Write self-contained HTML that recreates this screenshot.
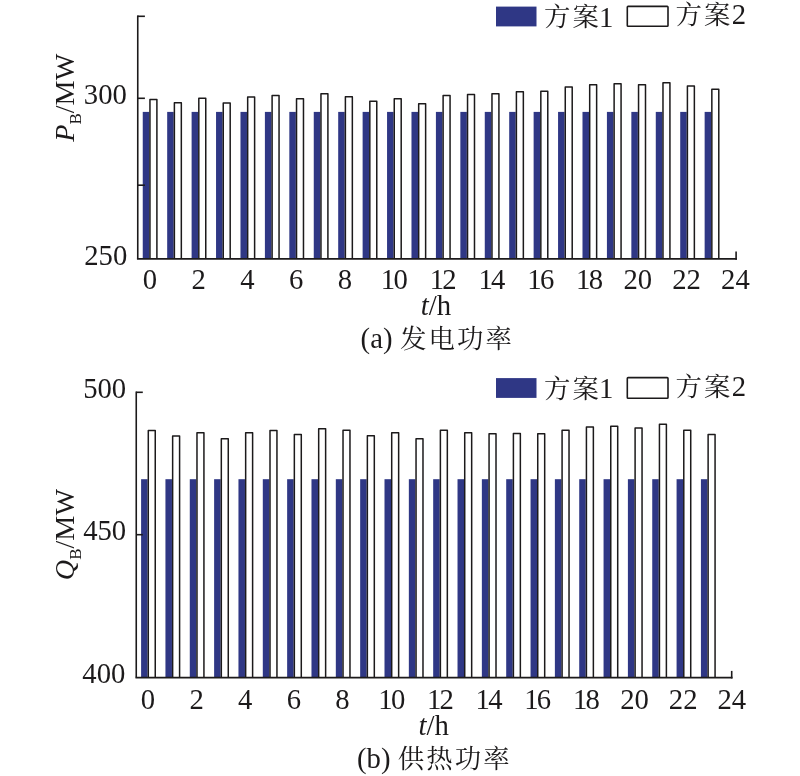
<!DOCTYPE html>
<html lang="zh-CN">
<head>
<meta charset="utf-8">
<title>发电功率与供热功率</title>
<style>
html,body{margin:0;padding:0;background:#fff;}
body{width:800px;height:776px;overflow:hidden;}
svg{display:block;}
text{font-family:"Liberation Serif","Noto Serif CJK SC",serif;fill:#1c1a1b;}
.cj{font-family:"Noto Serif CJK SC","Liberation Serif",serif;}
</style>
</head>
<body>
<svg width="800" height="776" viewBox="0 0 800 776">
<rect width="800" height="776" fill="#fff"/>
<g id="chart-a">
<rect x="142.75" y="111.90" width="6.5" height="146.90" fill="#2f3785"/>
<rect x="167.18" y="111.90" width="6.5" height="146.90" fill="#2f3785"/>
<rect x="191.61" y="111.90" width="6.5" height="146.90" fill="#2f3785"/>
<rect x="216.04" y="111.90" width="6.5" height="146.90" fill="#2f3785"/>
<rect x="240.47" y="111.90" width="6.5" height="146.90" fill="#2f3785"/>
<rect x="264.90" y="111.90" width="6.5" height="146.90" fill="#2f3785"/>
<rect x="289.33" y="111.90" width="6.5" height="146.90" fill="#2f3785"/>
<rect x="313.76" y="111.90" width="6.5" height="146.90" fill="#2f3785"/>
<rect x="338.19" y="111.90" width="6.5" height="146.90" fill="#2f3785"/>
<rect x="362.62" y="111.90" width="6.5" height="146.90" fill="#2f3785"/>
<rect x="387.05" y="111.90" width="6.5" height="146.90" fill="#2f3785"/>
<rect x="411.48" y="111.90" width="6.5" height="146.90" fill="#2f3785"/>
<rect x="435.91" y="111.90" width="6.5" height="146.90" fill="#2f3785"/>
<rect x="460.34" y="111.90" width="6.5" height="146.90" fill="#2f3785"/>
<rect x="484.77" y="111.90" width="6.5" height="146.90" fill="#2f3785"/>
<rect x="509.20" y="111.90" width="6.5" height="146.90" fill="#2f3785"/>
<rect x="533.63" y="111.90" width="6.5" height="146.90" fill="#2f3785"/>
<rect x="558.06" y="111.90" width="6.5" height="146.90" fill="#2f3785"/>
<rect x="582.49" y="111.90" width="6.5" height="146.90" fill="#2f3785"/>
<rect x="606.92" y="111.90" width="6.5" height="146.90" fill="#2f3785"/>
<rect x="631.35" y="111.90" width="6.5" height="146.90" fill="#2f3785"/>
<rect x="655.78" y="111.90" width="6.5" height="146.90" fill="#2f3785"/>
<rect x="680.21" y="111.90" width="6.5" height="146.90" fill="#2f3785"/>
<rect x="704.64" y="111.90" width="6.5" height="146.90" fill="#2f3785"/>
<path d="M149.95 258.80V99.50H156.90V258.80" fill="#fff" stroke="#1c1a1b" stroke-width="1.5" stroke-linejoin="round"/>
<path d="M174.38 258.80V102.65H181.33V258.80" fill="#fff" stroke="#1c1a1b" stroke-width="1.5" stroke-linejoin="round"/>
<path d="M198.81 258.80V98.25H205.76V258.80" fill="#fff" stroke="#1c1a1b" stroke-width="1.5" stroke-linejoin="round"/>
<path d="M223.24 258.80V103.00H230.19V258.80" fill="#fff" stroke="#1c1a1b" stroke-width="1.5" stroke-linejoin="round"/>
<path d="M247.67 258.80V97.00H254.62V258.80" fill="#fff" stroke="#1c1a1b" stroke-width="1.5" stroke-linejoin="round"/>
<path d="M272.10 258.80V95.50H279.05V258.80" fill="#fff" stroke="#1c1a1b" stroke-width="1.5" stroke-linejoin="round"/>
<path d="M296.53 258.80V98.65H303.48V258.80" fill="#fff" stroke="#1c1a1b" stroke-width="1.5" stroke-linejoin="round"/>
<path d="M320.96 258.80V93.85H327.91V258.80" fill="#fff" stroke="#1c1a1b" stroke-width="1.5" stroke-linejoin="round"/>
<path d="M345.39 258.80V96.75H352.34V258.80" fill="#fff" stroke="#1c1a1b" stroke-width="1.5" stroke-linejoin="round"/>
<path d="M369.82 258.80V101.15H376.77V258.80" fill="#fff" stroke="#1c1a1b" stroke-width="1.5" stroke-linejoin="round"/>
<path d="M394.25 258.80V98.85H401.20V258.80" fill="#fff" stroke="#1c1a1b" stroke-width="1.5" stroke-linejoin="round"/>
<path d="M418.68 258.80V103.85H425.63V258.80" fill="#fff" stroke="#1c1a1b" stroke-width="1.5" stroke-linejoin="round"/>
<path d="M443.11 258.80V95.50H450.06V258.80" fill="#fff" stroke="#1c1a1b" stroke-width="1.5" stroke-linejoin="round"/>
<path d="M467.54 258.80V94.50H474.49V258.80" fill="#fff" stroke="#1c1a1b" stroke-width="1.5" stroke-linejoin="round"/>
<path d="M491.97 258.80V93.85H498.92V258.80" fill="#fff" stroke="#1c1a1b" stroke-width="1.5" stroke-linejoin="round"/>
<path d="M516.40 258.80V91.75H523.35V258.80" fill="#fff" stroke="#1c1a1b" stroke-width="1.5" stroke-linejoin="round"/>
<path d="M540.83 258.80V91.35H547.78V258.80" fill="#fff" stroke="#1c1a1b" stroke-width="1.5" stroke-linejoin="round"/>
<path d="M565.26 258.80V87.00H572.21V258.80" fill="#fff" stroke="#1c1a1b" stroke-width="1.5" stroke-linejoin="round"/>
<path d="M589.69 258.80V84.85H596.64V258.80" fill="#fff" stroke="#1c1a1b" stroke-width="1.5" stroke-linejoin="round"/>
<path d="M614.12 258.80V83.85H621.07V258.80" fill="#fff" stroke="#1c1a1b" stroke-width="1.5" stroke-linejoin="round"/>
<path d="M638.55 258.80V84.85H645.50V258.80" fill="#fff" stroke="#1c1a1b" stroke-width="1.5" stroke-linejoin="round"/>
<path d="M662.98 258.80V82.85H669.93V258.80" fill="#fff" stroke="#1c1a1b" stroke-width="1.5" stroke-linejoin="round"/>
<path d="M687.41 258.80V86.00H694.36V258.80" fill="#fff" stroke="#1c1a1b" stroke-width="1.5" stroke-linejoin="round"/>
<path d="M711.84 258.80V89.15H718.79V258.80" fill="#fff" stroke="#1c1a1b" stroke-width="1.5" stroke-linejoin="round"/>
<path d="M137.75 15.40V258.80" stroke="#1c1a1b" stroke-width="1.6" fill="none"/>
<path d="M136.95 258.80H736.90" stroke="#1c1a1b" stroke-width="1.8" fill="none"/>
<path d="M736.10 251.50V259.70" stroke="#1c1a1b" stroke-width="1.6" fill="none"/>
<path d="M137.75 16.30H144.90" stroke="#1c1a1b" stroke-width="1.6" fill="none"/>
<path d="M137.75 98.30H144.90" stroke="#1c1a1b" stroke-width="1.6" fill="none"/>
<path d="M137.75 185.20H144.90" stroke="#1c1a1b" stroke-width="1.6" fill="none"/>
</g>
<g id="chart-b">
<rect x="141.10" y="479.20" width="6.5" height="198.40" fill="#2f3785"/>
<rect x="165.44" y="479.20" width="6.5" height="198.40" fill="#2f3785"/>
<rect x="189.78" y="479.20" width="6.5" height="198.40" fill="#2f3785"/>
<rect x="214.12" y="479.20" width="6.5" height="198.40" fill="#2f3785"/>
<rect x="238.46" y="479.20" width="6.5" height="198.40" fill="#2f3785"/>
<rect x="262.80" y="479.20" width="6.5" height="198.40" fill="#2f3785"/>
<rect x="287.14" y="479.20" width="6.5" height="198.40" fill="#2f3785"/>
<rect x="311.48" y="479.20" width="6.5" height="198.40" fill="#2f3785"/>
<rect x="335.82" y="479.20" width="6.5" height="198.40" fill="#2f3785"/>
<rect x="360.16" y="479.20" width="6.5" height="198.40" fill="#2f3785"/>
<rect x="384.50" y="479.20" width="6.5" height="198.40" fill="#2f3785"/>
<rect x="408.84" y="479.20" width="6.5" height="198.40" fill="#2f3785"/>
<rect x="433.18" y="479.20" width="6.5" height="198.40" fill="#2f3785"/>
<rect x="457.52" y="479.20" width="6.5" height="198.40" fill="#2f3785"/>
<rect x="481.86" y="479.20" width="6.5" height="198.40" fill="#2f3785"/>
<rect x="506.20" y="479.20" width="6.5" height="198.40" fill="#2f3785"/>
<rect x="530.54" y="479.20" width="6.5" height="198.40" fill="#2f3785"/>
<rect x="554.88" y="479.20" width="6.5" height="198.40" fill="#2f3785"/>
<rect x="579.22" y="479.20" width="6.5" height="198.40" fill="#2f3785"/>
<rect x="603.56" y="479.20" width="6.5" height="198.40" fill="#2f3785"/>
<rect x="627.90" y="479.20" width="6.5" height="198.40" fill="#2f3785"/>
<rect x="652.24" y="479.20" width="6.5" height="198.40" fill="#2f3785"/>
<rect x="676.58" y="479.20" width="6.5" height="198.40" fill="#2f3785"/>
<rect x="700.92" y="479.20" width="6.5" height="198.40" fill="#2f3785"/>
<path d="M148.30 677.60V430.50H155.25V677.60" fill="#fff" stroke="#1c1a1b" stroke-width="1.5" stroke-linejoin="round"/>
<path d="M172.64 677.60V436.00H179.59V677.60" fill="#fff" stroke="#1c1a1b" stroke-width="1.5" stroke-linejoin="round"/>
<path d="M196.98 677.60V432.65H203.93V677.60" fill="#fff" stroke="#1c1a1b" stroke-width="1.5" stroke-linejoin="round"/>
<path d="M221.32 677.60V438.85H228.27V677.60" fill="#fff" stroke="#1c1a1b" stroke-width="1.5" stroke-linejoin="round"/>
<path d="M245.66 677.60V432.65H252.61V677.60" fill="#fff" stroke="#1c1a1b" stroke-width="1.5" stroke-linejoin="round"/>
<path d="M270.00 677.60V430.50H276.95V677.60" fill="#fff" stroke="#1c1a1b" stroke-width="1.5" stroke-linejoin="round"/>
<path d="M294.34 677.60V434.50H301.29V677.60" fill="#fff" stroke="#1c1a1b" stroke-width="1.5" stroke-linejoin="round"/>
<path d="M318.68 677.60V428.85H325.63V677.60" fill="#fff" stroke="#1c1a1b" stroke-width="1.5" stroke-linejoin="round"/>
<path d="M343.02 677.60V430.35H349.97V677.60" fill="#fff" stroke="#1c1a1b" stroke-width="1.5" stroke-linejoin="round"/>
<path d="M367.36 677.60V435.75H374.31V677.60" fill="#fff" stroke="#1c1a1b" stroke-width="1.5" stroke-linejoin="round"/>
<path d="M391.70 677.60V432.65H398.65V677.60" fill="#fff" stroke="#1c1a1b" stroke-width="1.5" stroke-linejoin="round"/>
<path d="M416.04 677.60V438.85H422.99V677.60" fill="#fff" stroke="#1c1a1b" stroke-width="1.5" stroke-linejoin="round"/>
<path d="M440.38 677.60V430.35H447.33V677.60" fill="#fff" stroke="#1c1a1b" stroke-width="1.5" stroke-linejoin="round"/>
<path d="M464.72 677.60V432.65H471.67V677.60" fill="#fff" stroke="#1c1a1b" stroke-width="1.5" stroke-linejoin="round"/>
<path d="M489.06 677.60V433.85H496.01V677.60" fill="#fff" stroke="#1c1a1b" stroke-width="1.5" stroke-linejoin="round"/>
<path d="M513.40 677.60V433.50H520.35V677.60" fill="#fff" stroke="#1c1a1b" stroke-width="1.5" stroke-linejoin="round"/>
<path d="M537.74 677.60V433.85H544.69V677.60" fill="#fff" stroke="#1c1a1b" stroke-width="1.5" stroke-linejoin="round"/>
<path d="M562.08 677.60V430.15H569.03V677.60" fill="#fff" stroke="#1c1a1b" stroke-width="1.5" stroke-linejoin="round"/>
<path d="M586.42 677.60V427.00H593.37V677.60" fill="#fff" stroke="#1c1a1b" stroke-width="1.5" stroke-linejoin="round"/>
<path d="M610.76 677.60V426.35H617.71V677.60" fill="#fff" stroke="#1c1a1b" stroke-width="1.5" stroke-linejoin="round"/>
<path d="M635.10 677.60V428.00H642.05V677.60" fill="#fff" stroke="#1c1a1b" stroke-width="1.5" stroke-linejoin="round"/>
<path d="M659.44 677.60V424.15H666.39V677.60" fill="#fff" stroke="#1c1a1b" stroke-width="1.5" stroke-linejoin="round"/>
<path d="M683.78 677.60V430.15H690.73V677.60" fill="#fff" stroke="#1c1a1b" stroke-width="1.5" stroke-linejoin="round"/>
<path d="M708.12 677.60V434.50H715.07V677.60" fill="#fff" stroke="#1c1a1b" stroke-width="1.5" stroke-linejoin="round"/>
<path d="M136.25 391.50V677.60" stroke="#1c1a1b" stroke-width="1.6" fill="none"/>
<path d="M135.45 677.60H732.50" stroke="#1c1a1b" stroke-width="1.8" fill="none"/>
<path d="M731.70 670.90V678.50" stroke="#1c1a1b" stroke-width="1.6" fill="none"/>
<path d="M136.25 392.30H142.80" stroke="#1c1a1b" stroke-width="1.6" fill="none"/>
<path d="M136.25 534.70H142.80" stroke="#1c1a1b" stroke-width="1.6" fill="none"/>
</g>
<g id="labels">
<text x="126.9" y="104.2" text-anchor="end" font-size="28.7">300</text>
<text x="127.3" y="264.6" text-anchor="end" font-size="28.7">250</text>
<text x="126.2" y="398.4" text-anchor="end" font-size="28.7">500</text>
<text x="126.2" y="540.2" text-anchor="end" font-size="28.7">450</text>
<text x="125.4" y="683.2" text-anchor="end" font-size="28.7">400</text>
<text x="149.80" y="288.7" text-anchor="middle" font-size="28.7">0</text>
<text x="198.60" y="288.7" text-anchor="middle" font-size="28.7">2</text>
<text x="247.40" y="288.7" text-anchor="middle" font-size="28.7">4</text>
<text x="296.20" y="288.7" text-anchor="middle" font-size="28.7">6</text>
<text x="345.00" y="288.7" text-anchor="middle" font-size="28.7">8</text>
<text x="393.50" y="288.7" text-anchor="middle" font-size="28.7" letter-spacing="-1.7">10</text>
<text x="442.30" y="288.7" text-anchor="middle" font-size="28.7" letter-spacing="-1.7">12</text>
<text x="491.10" y="288.7" text-anchor="middle" font-size="28.7" letter-spacing="-1.7">14</text>
<text x="539.90" y="288.7" text-anchor="middle" font-size="28.7" letter-spacing="-1.7">16</text>
<text x="588.70" y="288.7" text-anchor="middle" font-size="28.7" letter-spacing="-1.7">18</text>
<text x="637.80" y="288.7" text-anchor="middle" font-size="28.7">20</text>
<text x="686.60" y="288.7" text-anchor="middle" font-size="28.7">22</text>
<text x="735.40" y="288.7" text-anchor="middle" font-size="28.7">24</text>
<text x="147.90" y="709.4" text-anchor="middle" font-size="28.7">0</text>
<text x="196.56" y="709.4" text-anchor="middle" font-size="28.7">2</text>
<text x="245.22" y="709.4" text-anchor="middle" font-size="28.7">4</text>
<text x="293.88" y="709.4" text-anchor="middle" font-size="28.7">6</text>
<text x="342.54" y="709.4" text-anchor="middle" font-size="28.7">8</text>
<text x="390.90" y="709.4" text-anchor="middle" font-size="28.7" letter-spacing="-1.7">10</text>
<text x="439.56" y="709.4" text-anchor="middle" font-size="28.7" letter-spacing="-1.7">12</text>
<text x="488.22" y="709.4" text-anchor="middle" font-size="28.7" letter-spacing="-1.7">14</text>
<text x="536.88" y="709.4" text-anchor="middle" font-size="28.7" letter-spacing="-1.7">16</text>
<text x="585.54" y="709.4" text-anchor="middle" font-size="28.7" letter-spacing="-1.7">18</text>
<text x="634.50" y="709.4" text-anchor="middle" font-size="28.7">20</text>
<text x="683.16" y="709.4" text-anchor="middle" font-size="28.7">22</text>
<text x="731.82" y="709.4" text-anchor="middle" font-size="28.7">24</text>
<text x="435.9" y="314.9" text-anchor="middle" font-size="28.7"><tspan font-style="italic">t</tspan>/h</text>
<text x="433.7" y="735.0" text-anchor="middle" font-size="28.7"><tspan font-style="italic">t</tspan>/h</text>
<text x="360.6" y="348.4" font-size="28.7">(a)</text>
<text class="cj" x="400.0" y="348.3" font-size="26.4" letter-spacing="2.1">发电功率</text>
<text x="357.0" y="768.0" font-size="28.7">(b)</text>
<text class="cj" x="397.7" y="767.7" font-size="26.4" letter-spacing="2.1">供热功率</text>
<text transform="translate(74,97.8) rotate(-90)" text-anchor="middle" font-size="28.2"><tspan font-style="italic">P</tspan><tspan font-size="17" dy="6.5">B</tspan><tspan dy="-6.5">/MW</tspan></text>
<text transform="translate(74,534.6) rotate(-90)" text-anchor="middle" font-size="28.2"><tspan font-style="italic">Q</tspan><tspan font-size="17" dy="6.5">B</tspan><tspan dy="-6.5">/MW</tspan></text>
<rect x="496" y="6.6" width="40.5" height="19.8" fill="#2f3785"/>
<rect x="627.30" y="6.40" width="40.70" height="19.80" rx="0.8" fill="#fff" stroke="#1c1a1b" stroke-width="1.6"/>
<text class="cj" x="543.9" y="26.3" font-size="26.4" letter-spacing="2.1">方案</text>
<text x="599.0" y="26.9" font-size="28.7">1</text>
<text class="cj" x="675.6" y="24.2" font-size="26.4" letter-spacing="2.1">方案</text>
<text x="731.7" y="24.4" font-size="28.7">2</text>
<rect x="496" y="378.1" width="40.5" height="19.8" fill="#2f3785"/>
<rect x="627.30" y="377.60" width="40.70" height="20.60" rx="0.8" fill="#fff" stroke="#1c1a1b" stroke-width="1.6"/>
<text class="cj" x="543.9" y="397.8" font-size="26.4" letter-spacing="2.1">方案</text>
<text x="599.0" y="398.3" font-size="28.7">1</text>
<text class="cj" x="675.6" y="395.7" font-size="26.4" letter-spacing="2.1">方案</text>
<text x="731.7" y="395.8" font-size="28.7">2</text>
</g>
</svg>
</body>
</html>
